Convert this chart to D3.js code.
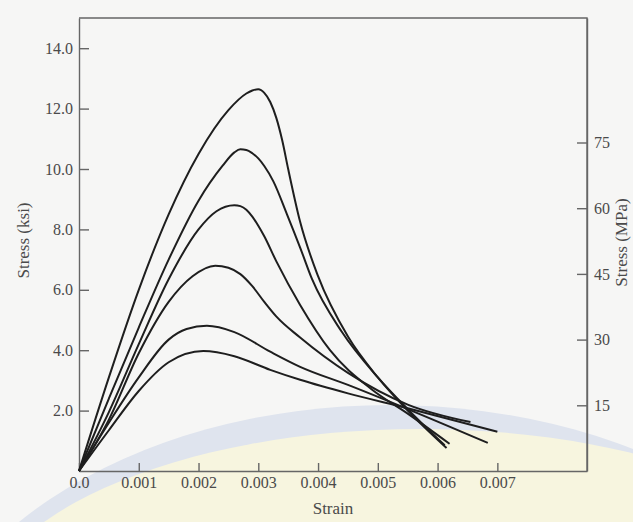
<!DOCTYPE html>
<html>
<head>
<meta charset="utf-8">
<script src="https://cdn.jsdelivr.net/npm/d3@7"></script>
<style>
  html, body { margin: 0; padding: 0; background: #f6f6f5; }
  svg { display: block; }
  .axis text { font-family: "Liberation Serif", "Times New Roman", serif; font-size: 16px; fill: #4a4a4a; }
  .axis path, .axis line { stroke: #666; stroke-width: 1.4; }
  .lbl { font-family: "Liberation Serif", "Times New Roman", serif; font-size: 17px; fill: #4a4a4a; }
</style>
</head>
<body>
<svg width="633" height="522"></svg>
<script>
// --- data: [strain, stress (ksi)] ---
const curve1 = [[0,0],[0.0005,3.1],[0.001,6.0],[0.0015,8.5],[0.002,10.5],[0.0025,11.95],[0.0028,12.5],
                [0.0029,12.6],[0.003,12.64],[0.0031,12.52],[0.0032,12.22],[0.0033,11.7],[0.0034,10.95],
                [0.0035,10.0],[0.0037,8.25],[0.004,6.45],[0.0045,4.45],[0.005,3.1],[0.0055,2.0],[0.00615,0.76]];
const curve2 = [[0,0],[0.0005,2.4],[0.001,4.75],[0.0015,7.0],[0.002,8.95],[0.0024,10.1],[0.0026,10.55],
                [0.0027,10.65],[0.0028,10.63],[0.0029,10.52],[0.003,10.35],[0.0031,10.1],[0.00325,9.6],
                [0.00348,8.5],[0.0037,7.4],[0.0039,6.35],[0.0044,4.6],[0.005,3.1],[0.0055,2.05],[0.00612,0.85]];
const curve3 = [[0,0],[0.0005,1.95],[0.001,4.2],[0.0015,6.35],[0.002,8.0],[0.0023,8.6],[0.0026,8.8],
                [0.0027,8.77],[0.0028,8.65],[0.0029,8.42],[0.003,8.12],[0.0031,7.77],[0.0033,6.95],
                [0.0037,5.5],[0.0042,4.0],[0.0049,2.7],[0.0055,1.9],[0.0062,0.9]];
const curve4 = [[0,0],[0.0005,1.7],[0.001,3.9],[0.0015,5.6],[0.0019,6.45],[0.00228,6.8],[0.0025,6.73],
                [0.0027,6.52],[0.0029,6.12],[0.0031,5.6],[0.0033,5.12],[0.0037,4.42],
                [0.0045,3.25],[0.0055,2.2],[0.00655,1.62]];
const curve5 = [[0,0],[0.0005,1.6],[0.001,3.1],[0.0015,4.35],[0.0018,4.7],[0.00214,4.81],[0.0026,4.6],
                [0.0032,3.95],[0.0037,3.45],[0.0045,2.85],[0.0055,2.05],[0.00684,0.93]];
const curve6 = [[0,0],[0.0005,1.35],[0.001,2.65],[0.0015,3.6],[0.00208,3.97],[0.0026,3.8],
                [0.0032,3.35],[0.0037,3.02],[0.0045,2.57],[0.0055,2.08],[0.007,1.3]];
const curves = [curve1, curve2, curve3, curve4, curve5, curve6];

const strainTicks = [0, 0.001, 0.002, 0.003, 0.004, 0.005, 0.006, 0.007];
const ksiTicks    = [2, 4, 6, 8, 10, 12, 14];
const mpaTicks    = [15, 30, 45, 60, 75];
const KSI_TO_MPA  = 6.895;

const margin = {top: 18, right: 46, bottom: 51, left: 79},
      W = 633, H = 522,
      width  = W - margin.left - margin.right,
      height = H - margin.top - margin.bottom;

const svg = d3.select("svg");

// faint watermark bands from the scan (background only)
svg.append("ellipse").attr("cx", 390).attr("cy", 725).attr("rx", 480).attr("ry", 320)
   .attr("fill", "#dfe4ee");
svg.append("ellipse").attr("cx", 420).attr("cy", 629).attr("rx", 445).attr("ry", 200)
   .attr("fill", "#f7f5df");

const g = svg.append("g").attr("transform", `translate(${margin.left},${margin.top})`);

const x = d3.scaleLinear().domain([0, 0.0085]).range([0, width]);
const y = d3.scaleLinear().domain([0, 15]).range([height, 0]);
const y2 = d3.scaleLinear().domain([0, 15 * KSI_TO_MPA]).range([height, 0]);

// frame (top + right)
g.append("path")
  .attr("d", `M0,0H${width}V${height}`)
  .attr("fill", "none").attr("stroke", "#666").attr("stroke-width", 1.4);

g.append("g").attr("class", "axis")
  .attr("transform", `translate(0,${height})`)
  .call(d3.axisBottom(x).tickValues(strainTicks).tickSize(-8).tickSizeOuter(0).tickPadding(6)
        .tickFormat(d => d === 0 ? "0.0" : d3.format(".3f")(d)));

g.append("g").attr("class", "axis")
  .call(d3.axisLeft(y).tickValues(ksiTicks).tickSize(-10).tickSizeOuter(0).tickPadding(6)
        .tickFormat(d3.format(".1f")));

g.append("g").attr("class", "axis")
  .attr("transform", `translate(${width},0)`)
  .call(d3.axisRight(y2).tickValues(mpaTicks).tickSize(-10).tickSizeOuter(0).tickPadding(7));

const line = d3.line()
  .x(d => x(d[0]))
  .y(d => y(d[1]))
  .curve(d3.curveMonotoneX);

g.selectAll(".curve").data(curves).enter().append("path")
  .attr("class", "curve")
  .attr("d", line)
  .attr("fill", "none")
  .attr("stroke", "#1e1e1e")
  .attr("stroke-width", 2);

// axis titles
g.append("text").attr("class", "lbl")
  .attr("x", width / 2).attr("y", height + 43).attr("text-anchor", "middle").text("Strain");
g.append("text").attr("class", "lbl")
  .attr("transform", "rotate(-90)").attr("x", -height / 2 + 4).attr("y", -50)
  .attr("text-anchor", "middle").text("Stress (ksi)");
g.append("text").attr("class", "lbl")
  .attr("transform", "rotate(-90)").attr("x", -height / 2 + 2).attr("y", width + 40)
  .attr("text-anchor", "middle").text("Stress (MPa)");
</script>
</body>
</html>
